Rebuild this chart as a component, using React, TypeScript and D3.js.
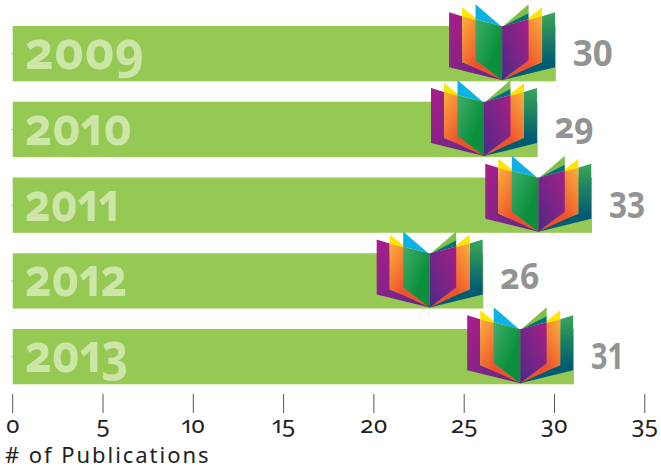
import React from "react";
import * as d3 from "d3";

const years = ["2009", "2010", "2011", "2012", "2013"];
const barValues = [30, 29, 32, 26, 31];
const valueLabels = ["30", "29", "33", "26", "31"];
const valueOldStyle = [false, true, false, true, false];
const yearWidths = [119, 107, 95, 102, 103];
const valueWidths = [40, 39, 36, 39, 33];
const ticks = [0, 5, 10, 15, 20, 25, 30, 35];

const W = 661, H = 468;
const x = d3.scaleLinear().domain([0, 35]).range([12.7, 644.8]);
const xBar = d3.scaleLinear().domain([0, 35]).range([12.7, 646.3]);
const y = d3.scaleBand<string>().domain(years).range([26, 384.3]).paddingInner(0.27).paddingOuter(0);

type Part = { pts: [number, number][]; fill: string };
const parts: Part[] = [
  { pts: [[-53, -68], [-40, -64], [-40, -18], [0, -2], [0, 0], [-53, -13]], fill: "url(#purple1)" },
  { pts: [[-40, -73], [-26, -62], [-26, -58], [-40, -63]], fill: "#ffe600" },
  { pts: [[-40, -64], [-26, -60], [-26, -20], [0, 0], [-40, -18.5]], fill: "url(#orange1)" },
  { pts: [[-26.5, -76], [-1, -54], [-26.5, -61]], fill: "#0db1e6" },
  { pts: [[-26.5, -61], [-1, -54], [0, -54], [-26.5, -58]], fill: "#8cc152" },
  { pts: [[-26.5, -61], [-20, -59], [0, -54], [0, 0], [-26.5, -20]], fill: "url(#green1)" },
  { pts: [[53, -68], [40, -64], [40, -18], [0, -2], [0, 0], [53, -13]], fill: "url(#teal1)" },
  { pts: [[40, -73], [26, -62], [26, -58], [40, -63]], fill: "#ffe600" },
  { pts: [[40, -64], [26, -60], [26, -20], [0, 0], [40, -18.5]], fill: "url(#orange2)" },
  { pts: [[26.5, -76], [1, -54], [26.5, -66]], fill: "#7fbf4a" },
  { pts: [[26.5, -67], [1, -54], [26.5, -61]], fill: "#00727a" },
  { pts: [[26.5, -61], [0, -54], [0, 0], [26.5, -20]], fill: "url(#purple2)" },
];

const toPath = d3.line<[number, number]>().curve(d3.curveLinearClosed);
const onum: React.CSSProperties = { fontVariantNumeric: "oldstyle-nums proportional-nums" };

export default function App() {
  const bandH = y.bandwidth();
  return (
    <svg width={W} height={H} style={{ position: "absolute", left: 0, top: 0, background: "#fff" }}>
      <defs>
        <linearGradient id="purple1" x1="0" y1="0" x2="1" y2="1">
          <stop offset="0" stopColor="#ab1d8a" /><stop offset="1" stopColor="#5b2a86" />
        </linearGradient>
        <linearGradient id="orange1" x1="0" y1="0" x2="1" y2="1">
          <stop offset="0" stopColor="#fbb03b" /><stop offset="0.55" stopColor="#f0512d" />
        </linearGradient>
        <linearGradient id="orange2" x1="1" y1="0" x2="0" y2="1">
          <stop offset="0" stopColor="#fbb03b" /><stop offset="0.55" stopColor="#f0512d" />
        </linearGradient>
        <linearGradient id="green1" x1="0" y1="0" x2="1" y2="1">
          <stop offset="0" stopColor="#3fae6b" /><stop offset="0.65" stopColor="#0b8f3c" />
        </linearGradient>
        <linearGradient id="purple2" x1="1" y1="0" x2="0" y2="1">
          <stop offset="0" stopColor="#a81f87" /><stop offset="1" stopColor="#4b2a86" />
        </linearGradient>
        <linearGradient id="teal1" x1="0.5" y1="0" x2="0.5" y2="1">
          <stop offset="0" stopColor="#3aa655" /><stop offset="0.75" stopColor="#005b73" />
        </linearGradient>
      </defs>

      {years.map((yr, i) => {
        const top = y(yr) as number;
        const end = xBar(barValues[i]);
        return (
          <g key={yr}>
            <line x1={x(0) - 1.5} x2={x(0)} y1={top + bandH / 2} y2={top + bandH / 2} stroke="#aaa" />
            <rect x={x(0)} y={top} width={end - x(0)} height={bandH} fill="#95c954" />
            <text x={25} y={top + 43} fontFamily="Noto Sans" fontWeight={700} fontSize={53} style={onum}
              fill="#cbe6a6" textLength={yearWidths[i]} lengthAdjust="spacingAndGlyphs">{yr}</text>
            <g transform={`translate(${end - 53.7},${top + 54.3})`}>
              {parts.map((p, k) => (
                <path key={k} d={toPath(p.pts) as string} fill={p.fill} />
              ))}
            </g>
            <text x={end + 17} y={top + (valueOldStyle[i] ? 36 : 40)} fontFamily="Noto Sans" fontWeight={700} fontSize={36}
              style={valueOldStyle[i] ? onum : undefined}
              fill="#939393" textLength={valueWidths[i]} lengthAdjust="spacingAndGlyphs">{valueLabels[i]}</text>
          </g>
        );
      })}

      {ticks.map((t) => (
        <g key={t}>
          <line x1={x(t)} x2={x(t)} y1={394} y2={413} stroke="#555" strokeWidth={1} />
          <text x={x(t)} y={433} textAnchor="middle" fontFamily="Noto Sans" fontSize={24} style={onum} fill="#222">{t}</text>
        </g>
      ))}
      <text x={5} y={463} fontFamily="Noto Sans" fontSize={22} letterSpacing={1.95} fill="#222">
        # of Publications
      </text>
    </svg>
  );
}
